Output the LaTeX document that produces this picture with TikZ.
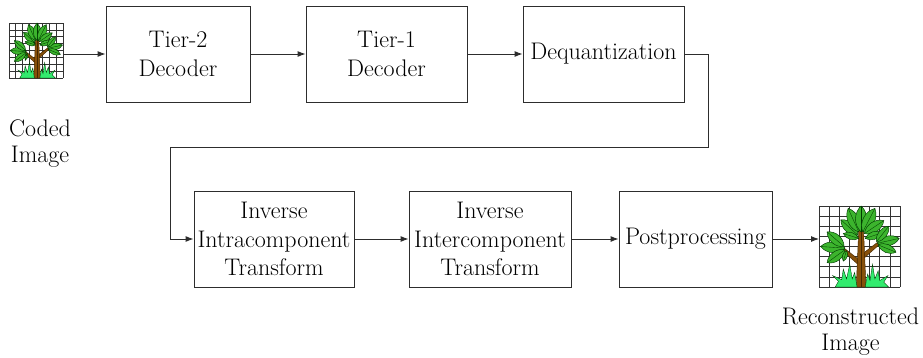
\documentclass[tikz,border=0pt]{standalone}
\usetikzlibrary{arrows.meta}

\definecolor{ink}{RGB}{45,45,45}
\definecolor{leafgreen}{RGB}{60,180,45}
\definecolor{leafdark}{RGB}{0,60,0}
\definecolor{barkbrown}{RGB}{135,80,10}
\definecolor{barkdark}{RGB}{70,40,0}
\definecolor{grassgreen}{RGB}{50,235,110}

% one leaf: a lens between two points with a midrib
\newcommand{\leafat}[2]{%
  \filldraw[leaf] #1 to[bend left=48] #2 to[bend left=48] #1;
  \draw[leafvein] #1 -- #2;}

% tree icon on a grid, drawn in the unit square (y grows downward)
\newcommand{\treeicon}{%
  \fill[white] (0,0) rectangle (1,1);
  \foreach \k in {0,...,8}{%
    \draw[gridline] (\k/8,0) -- (\k/8,1);
    \draw[gridline] (0,\k/8) -- (1,\k/8);}
  % branches and trunk
  \filldraw[bark] (0.49,0.66) -- (0.31,0.52) -- (0.29,0.55) -- (0.48,0.72) -- cycle;
  \filldraw[bark] (0.55,0.58) -- (0.72,0.45) -- (0.74,0.48) -- (0.56,0.64) -- cycle;
  \filldraw[bark] (0.46,1) -- (0.49,0.30) -- (0.55,0.30) -- (0.58,1) -- cycle;
  \draw[barkdark, line width=0.4pt] (0.52,0.32) -- (0.52,1);
  % crown
  \leafat{(0.48,0.36)}{(0.27,0.17)}
  \leafat{(0.49,0.32)}{(0.36,0.03)}
  \leafat{(0.52,0.32)}{(0.52,0.00)}
  \leafat{(0.54,0.32)}{(0.69,0.03)}
  \leafat{(0.56,0.34)}{(0.80,0.18)}
  \leafat{(0.49,0.40)}{(0.30,0.34)}
  \leafat{(0.57,0.40)}{(0.78,0.33)}
  % left cluster
  \leafat{(0.32,0.52)}{(0.02,0.50)}
  \leafat{(0.32,0.54)}{(0.10,0.70)}
  \leafat{(0.31,0.50)}{(0.10,0.32)}
  \leafat{(0.34,0.55)}{(0.30,0.68)}
  % right cluster
  \leafat{(0.72,0.46)}{(0.99,0.40)}
  \leafat{(0.71,0.44)}{(0.86,0.25)}
  \leafat{(0.73,0.48)}{(0.95,0.57)}
  % grass
  \filldraw[grass] (0.20,1) -- (0.24,0.93) -- (0.17,0.86) -- (0.28,0.91) -- (0.30,0.78)
    -- (0.34,0.90) -- (0.38,0.72) -- (0.41,0.90) -- (0.44,0.82) -- (0.47,1) -- cycle;
  \filldraw[grass] (0.57,1) -- (0.60,0.84) -- (0.63,0.92) -- (0.66,0.72) -- (0.69,0.90)
    -- (0.73,0.80) -- (0.75,0.92) -- (0.85,0.86) -- (0.80,0.94) -- (0.86,1) -- cycle;
}

\begin{document}
\begin{tikzpicture}[x=1pt, y=-1pt,
  font=\fontsize{24}{28.5}\selectfont,
  block/.style={draw=ink, line width=0.9pt, align=center, inner sep=0pt,
                minimum height=96pt},
  flow/.style={draw=ink, line width=0.9pt, -{Latex[length=8pt,width=6pt]}},
  caption/.style={align=center, inner sep=0pt,
                  font=\fontsize{24}{26}\selectfont},
  iconframe/.style={inner sep=0pt, outer sep=0pt},
  gridline/.style={draw=black!80, line width=0.6pt},
  leaf/.style={fill=leafgreen, draw=leafdark, line width=0.45pt},
  leafvein/.style={draw=leafdark, line width=0.35pt},
  bark/.style={fill=barkbrown, draw=barkdark, line width=0.45pt},
  grass/.style={fill=grassgreen, draw=leafdark, line width=0.35pt}]
\useasboundingbox (0,0) rectangle (923,357);

% source and result images
\begin{scope}[shift={(9,23)}, x=54pt, y=-55pt]
  \treeicon
\end{scope}
\node[iconframe, minimum width=54pt, minimum height=55pt] (coded) at (36,50.5) {};
\node[caption] (codedlbl) at (40,144) {Coded\\Image};

\begin{scope}[shift={(819,206)}, x=81pt, y=-81pt]
  \treeicon
\end{scope}
\node[iconframe, minimum width=81pt, minimum height=81pt] (recon) at (859.5,246.5) {};
\node[caption] (reconlbl) at (850.5,332) {Reconstructed\\Image};

% processing stages
\node[block, minimum width=144pt] (tiertwo) at (178,54) {Tier-2\\Decoder};
\node[block, minimum width=161pt] (tierone) at (386.5,54) {Tier-1\\Decoder};
\node[block, minimum width=161pt] (dequant) at (603.5,54) {Dequantization};
\node[block, minimum width=160pt] (intra) at (274,239) {Inverse\\Intracomponent\\Transform};
\node[block, minimum width=162pt] (inter) at (490,239) {Inverse\\Intercomponent\\Transform};
\node[block, minimum width=153pt] (post) at (695.5,239) {Postprocessing};

\coordinate (turnright) at (708,147);
\coordinate (turnleft) at (170,147);

% connectors
\draw[flow] (tiertwo.west -| coded.east) -- (tiertwo.west);
\draw[flow] (tiertwo) -- (tierone);
\draw[flow] (tierone) -- (dequant);
\draw[flow] (dequant.east) -| (turnright) -- (turnleft) |- (intra.west);
\draw[flow] (intra) -- (inter);
\draw[flow] (inter) -- (post);
\draw[flow] (post.east) -- (post.east -| recon.west);
\end{tikzpicture}
\end{document}
